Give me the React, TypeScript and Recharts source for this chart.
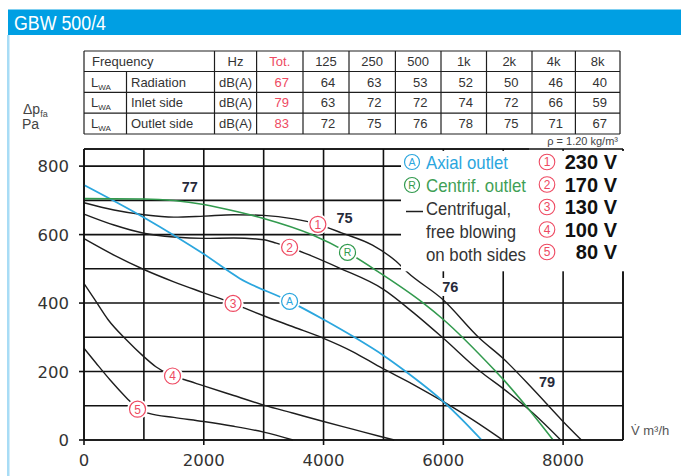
import React from 'react';
import { ComposedChart, Line, Scatter, XAxis, YAxis, CartesianGrid, ReferenceLine } from 'recharts';

// ---------- data ----------
const title = 'GBW 500/4';
const freqHeaders = ['Hz', 'Tot.', '125', '250', '500', '1k', '2k', '4k', '8k'];
const rowLabels = ['Radiation', 'Inlet side', 'Outlet side'];
const radiation = [67, 64, 63, 53, 52, 50, 46, 40];
const inletSide = [79, 63, 72, 72, 74, 72, 66, 59];
const outletSide = [83, 72, 75, 76, 78, 75, 71, 67];
const tableRows = [radiation, inletSide, outletSide];

const xTicks = [0, 1000, 2000, 3000, 4000, 5000, 6000, 7000, 8000, 9000];
const xLabelTicks = [0, 2000, 4000, 6000, 8000];
const yTicks = [0, 100, 200, 300, 400, 500, 600, 700, 800];
const yLabelTicks = [0, 200, 400, 600, 800];

const axialOutlet = [
  { v: 0, p: 745 }, { v: 1000, p: 650 }, { v: 2000, p: 543 }, { v: 2600, p: 472 },
  { v: 3433, p: 405 }, { v: 4000, p: 352 }, { v: 4517, p: 300 }, { v: 5000, p: 247 },
  { v: 5350, p: 203 }, { v: 6000, p: 112 }, { v: 6300, p: 62 }, { v: 6640, p: 0 },
];
const centrifOutlet = [
  { v: 0, p: 705 }, { v: 1000, p: 704 }, { v: 2000, p: 688 }, { v: 2600, p: 665 },
  { v: 3000, p: 647 }, { v: 3800, p: 600 }, { v: 4400, p: 548 }, { v: 4933, p: 489 },
  { v: 5650, p: 402 }, { v: 6000, p: 352 }, { v: 6850, p: 205 }, { v: 7000, p: 177 },
  { v: 7378, p: 100 }, { v: 7833, p: 0 },
];
const curve230 = [
  { v: 0, p: 693 }, { v: 500, p: 672 }, { v: 1000, p: 658 }, { v: 1500, p: 651 },
  { v: 2000, p: 654 }, { v: 2500, p: 658 }, { v: 3000, p: 656 }, { v: 3500, p: 646 },
  { v: 3905, p: 630 }, { v: 4300, p: 605 }, { v: 4817, p: 569 }, { v: 5211, p: 522 },
  { v: 5400, p: 490 }, { v: 6000, p: 409 }, { v: 6600, p: 298 }, { v: 7000, p: 238 },
  { v: 7500, p: 148 }, { v: 7978, p: 58 }, { v: 8305, p: 0 },
];
const curve170 = [
  { v: 0, p: 660 }, { v: 500, p: 628 }, { v: 1000, p: 604 }, { v: 1500, p: 593 },
  { v: 2000, p: 589 }, { v: 2500, p: 590 }, { v: 3000, p: 585 }, { v: 3211, p: 575 },
  { v: 3433, p: 563 }, { v: 3739, p: 542 }, { v: 4267, p: 502 }, { v: 5000, p: 440 },
  { v: 5500, p: 372 }, { v: 6000, p: 297 }, { v: 6617, p: 200 }, { v: 7000, p: 150 },
  { v: 7500, p: 78 }, { v: 7960, p: 0 },
];
const curve130 = [
  { v: 0, p: 588 }, { v: 500, p: 540 }, { v: 1000, p: 498 }, { v: 1500, p: 462 },
  { v: 2000, p: 430 }, { v: 2489, p: 399 }, { v: 2683, p: 385 }, { v: 3000, p: 363 },
  { v: 3500, p: 330 }, { v: 4000, p: 297 }, { v: 4500, p: 257 }, { v: 4933, p: 214 },
  { v: 5500, p: 162 }, { v: 6000, p: 112 }, { v: 6500, p: 58 }, { v: 6990, p: 0 },
];
const curve100 = [
  { v: 0, p: 457 }, { v: 183, p: 409 }, { v: 400, p: 352 }, { v: 711, p: 292 },
  { v: 989, p: 245 }, { v: 1200, p: 214 }, { v: 1478, p: 187 }, { v: 1683, p: 176 },
  { v: 2000, p: 158 }, { v: 2500, p: 130 }, { v: 3000, p: 102 }, { v: 3500, p: 78 },
  { v: 4000, p: 54 }, { v: 4500, p: 31 }, { v: 4933, p: 11 }, { v: 5180, p: 0 },
];
const curve80 = [
  { v: 0, p: 268 }, { v: 200, p: 225 }, { v: 433, p: 176 }, { v: 711, p: 123 },
  { v: 894, p: 92 }, { v: 1100, p: 77 }, { v: 1500, p: 66 }, { v: 2000, p: 54 },
  { v: 2500, p: 40 }, { v: 3000, p: 23 }, { v: 3489, p: 0 },
];

const speedMarkers = [
  { v: 3905, p: 630, n: '1' }, { v: 3433, p: 563, n: '2' }, { v: 2489, p: 399, n: '3' },
  { v: 1478, p: 187, n: '4' }, { v: 894, p: 90, n: '5' },
];
const axialMarker = [{ v: 3433, p: 405, n: 'A' }];
const centrifMarker = [{ v: 4400, p: 548, n: 'R' }];
const soundLevels = [
  { v: 1767, p: 739, n: '77' }, { v: 4350, p: 648, n: '75' },
  { v: 6117, p: 447, n: '76' }, { v: 7733, p: 169, n: '79' },
];

const voltages = ['230 V', '170 V', '130 V', '100 V', '80 V'];
const voltageNumbers = ['1', '2', '3', '4', '5'];
const outletLegend = ['Axial outlet', 'Centrif. outlet'];
const freeBlowingLegend = ['Centrifugal,', 'free blowing', 'on both sides'];
const densityNote = 'ρ = 1.20 kg/m³';
const xAxisLabel = 'V̇ m³/h';

// ---------- styles ----------
const BLUE = '#2ba6de';
const GREEN = '#329a4e';
const RED = '#ee4a62';
const BLACK = '#1e1e1e';
const GRID = '#111';
const TEXT = '#333';
const FONT = '"Liberation Sans", Arial, sans-serif';
const TICK_FONT = '"DejaVu Sans", sans-serif';

const XTick = (props: any) => {
  const { x, y, payload } = props;
  const show = xLabelTicks.includes(payload.value);
  if (!show) return <g />;
  return (
    <g>
      <line x1={x} x2={x} y1={y} y2={y + 5} stroke={GRID} strokeWidth={1.6} />
      <text x={x} y={y + 26} textAnchor="middle" fontSize={16.5} fontFamily={TICK_FONT} fill={TEXT}>
        {payload.value}
      </text>
    </g>
  );
};

const YTick = (props: any) => {
  const { x, y, payload } = props;
  const show = yLabelTicks.includes(payload.value);
  if (!show) return <g />;
  return (
    <g>
      <line x1={x - 5} x2={x} y1={y} y2={y} stroke={GRID} strokeWidth={1.6} />
      <text x={x - 15} y={y + 6} textAnchor="end" fontSize={16.5} fontFamily={TICK_FONT} fill={TEXT}>
        {payload.value}
      </text>
    </g>
  );
};

const circleShape = (color: string, fs: number) => (props: any) => {
  const { cx, cy, payload } = props;
  return (
    <g>
      <circle cx={cx} cy={cy} r={10.5} fill="#fff" />
      <circle cx={cx} cy={cy} r={8} fill="#fff" stroke={color} strokeWidth={1.2} />
      <text x={cx} y={cy + fs * 0.36} textAnchor="middle" fontSize={fs} fontFamily={FONT} fill={color}>
        {payload.n}
      </text>
    </g>
  );
};

const levelShape = (props: any) => {
  const { cx, cy, payload } = props;
  return (
    <g>
      <rect x={cx - 10} y={cy - 9} width={20} height={18} fill="#fff" />
      <text x={cx} y={cy + 5} textAnchor="middle" fontSize={14.5} fontWeight="bold" fontFamily={FONT} fill="#262a3a">
        {payload.n}
      </text>
    </g>
  );
};

const colX = [84, 126.5, 214.5, 256.6, 303, 349, 395.4, 441, 486.5, 532, 575.4, 620];
const rowY = [51, 71.5, 92.3, 113.2, 134];

const Overlay = () => {
  const cellCenter = (i: number) => (colX[i] + colX[i + 1]) / 2;
  const rowBase = (r: number) => (rowY[r] + rowY[r + 1]) / 2 + 4.6;
  return (
    <svg width={681} height={476} style={{ position: 'absolute', left: 0, top: 0, pointerEvents: 'none' }}>
      {/* header */}
      <rect x={8} y={9.5} width={673} height={25.5} fill="#009fe3" />
      <text x={14} y={29.5} fontSize={20} fontFamily={FONT} fill="#fff" textLength={92} lengthAdjust="spacingAndGlyphs">{title}</text>
      <rect x={7} y={35} width={2.5} height={441} fill="#a8dcf5" />

      {/* table */}
      {rowY.map((y, i) => (
        <line key={'h' + i} x1={colX[0]} x2={colX[11]} y1={y} y2={y} stroke={BLACK} strokeWidth={1.2} />
      ))}
      {colX.map((x, i) => (
        <line key={'v' + i} x1={x} x2={x} y1={i === 1 ? rowY[1] : rowY[0]} y2={rowY[4]} stroke={BLACK} strokeWidth={1.2} />
      ))}
      <text x={92} y={rowBase(0)} fontSize={13} fontFamily={FONT} fill={TEXT}>Frequency</text>
      {freqHeaders.map((h, i) => (
        <text key={'fh' + i} x={cellCenter(i + 2)} y={rowBase(0)} textAnchor="middle" fontSize={13} fontFamily={FONT} fill={i === 1 ? RED : TEXT}>{h}</text>
      ))}
      {tableRows.map((row, r) => (
        <g key={'r' + r}>
          <text x={91} y={rowBase(r + 1)} fontSize={13} fontFamily={FONT} fill={TEXT}>
            L<tspan fontSize={8} dy={3}>WA</tspan>
          </text>
          <text x={131} y={rowBase(r + 1)} fontSize={13} fontFamily={FONT} fill={TEXT}>{rowLabels[r]}</text>
          <text x={cellCenter(2)} y={rowBase(r + 1)} textAnchor="middle" fontSize={13} fontFamily={FONT} fill={TEXT}>dB(A)</text>
          {row.map((val, i) => (
            <text key={'c' + i} x={cellCenter(i + 3) + 2} y={rowBase(r + 1)} textAnchor="middle" fontSize={13} fontFamily={FONT} fill={i === 0 ? RED : TEXT}>{val}</text>
          ))}
        </g>
      ))}

      {/* y label */}
      <text x={23} y={114} fontSize={14} fontFamily={FONT} fill="#444">
        Δp<tspan fontSize={9} dy={3}>fa</tspan>
      </text>
      <text x={22} y={129} fontSize={14} fontFamily={FONT} fill="#444">Pa</text>

      {/* density note */}
      <text x={618} y={145} textAnchor="end" fontSize={11} fontFamily={FONT} fill="#444">{densityNote}</text>

      {/* legend box */}
      <rect x={401} y={150.9} width={280} height={120.4} fill="#fff" />
      <circle cx={412} cy={162} r={7.5} fill="#fff" stroke={BLUE} strokeWidth={1.2} />
      <text x={412} y={165.8} textAnchor="middle" fontSize={10.5} fontFamily={FONT} fill={BLUE}>A</text>
      <text x={426} y={168.5} fontSize={18.5} fontFamily={FONT} fill={BLUE} textLength={82} lengthAdjust="spacingAndGlyphs">{outletLegend[0]}</text>
      <circle cx={412} cy={185} r={7.5} fill="#fff" stroke={GREEN} strokeWidth={1.2} />
      <text x={412} y={188.8} textAnchor="middle" fontSize={10.5} fontFamily={FONT} fill={GREEN}>R</text>
      <text x={426} y={191.5} fontSize={18.5} fontFamily={FONT} fill="#3f9f56" textLength={100} lengthAdjust="spacingAndGlyphs">{outletLegend[1]}</text>
      <line x1={406} x2={423} y1={211.5} y2={211.5} stroke={BLACK} strokeWidth={1.5} />
      {freeBlowingLegend.map((t, i) => (
        <text key={'fb' + i} x={426} y={214.5 + i * 23.2} fontSize={18.5} fontFamily={FONT} fill="#333"
          textLength={[85, 90, 100][i]} lengthAdjust="spacingAndGlyphs">{t}</text>
      ))}
      {voltages.map((t, i) => {
        const cy = 162 + i * 22.5;
        return (
          <g key={'vl' + i}>
            <circle cx={547} cy={cy} r={7.8} fill="#fff" stroke={RED} strokeWidth={1.1} />
            <text x={547} y={cy + 4.3} textAnchor="middle" fontSize={12} fontFamily={FONT} fill={RED}>{voltageNumbers[i]}</text>
            <text x={617} y={cy + 7.2} textAnchor="end" fontSize={20} fontWeight="bold" fontFamily={FONT} fill="#111">{t}</text>
          </g>
        );
      })}

      {/* x label */}
      <text x={631} y={435} fontSize={13} fontFamily={FONT} fill="#555">{xAxisLabel}</text>
    </svg>
  );
};

export default function App() {
  return (
    <div style={{ position: 'absolute', left: 0, top: 0, width: 681, height: 476, background: '#fff', overflow: 'hidden' }}>
      <div style={{ position: 'absolute', left: 0, top: 0 }}>
        <ComposedChart width={681} height={476} margin={{ top: 149, right: 58, bottom: 6, left: 24 }}>
          <CartesianGrid stroke={GRID} strokeWidth={1.6} />
          <XAxis
            type="number"
            dataKey="v"
            domain={[0, 9000]}
            ticks={xTicks}
            interval={0}
            tickSize={0}
            tickMargin={0}
            tickLine={false}
            tick={XTick}
            height={30}
            axisLine={{ stroke: GRID, strokeWidth: 1.6 }}
          />
          <YAxis
            type="number"
            domain={[0, 850]}
            ticks={yTicks}
            interval={0}
            tickSize={0}
            tickMargin={0}
            tickLine={false}
            tick={YTick}
            width={60}
            axisLine={{ stroke: GRID, strokeWidth: 1.6 }}
          />
          <ReferenceLine segment={[{ x: 0, y: 850 }, { x: 7430, y: 850 }]} stroke={GRID} strokeWidth={1.6} />
          <ReferenceLine x={9000} stroke={GRID} strokeWidth={1.6} />
          <Line data={curve230} dataKey="p" type="monotone" stroke={BLACK} strokeWidth={1.4} dot={false} isAnimationActive={false} />
          <Line data={curve170} dataKey="p" type="monotone" stroke={BLACK} strokeWidth={1.4} dot={false} isAnimationActive={false} />
          <Line data={curve130} dataKey="p" type="monotone" stroke={BLACK} strokeWidth={1.4} dot={false} isAnimationActive={false} />
          <Line data={curve100} dataKey="p" type="monotone" stroke={BLACK} strokeWidth={1.4} dot={false} isAnimationActive={false} />
          <Line data={curve80} dataKey="p" type="monotone" stroke={BLACK} strokeWidth={1.4} dot={false} isAnimationActive={false} />
          <Line data={axialOutlet} dataKey="p" type="monotone" stroke={BLUE} strokeWidth={1.8} dot={false} isAnimationActive={false} />
          <Line data={centrifOutlet} dataKey="p" type="monotone" stroke={GREEN} strokeWidth={1.6} dot={false} isAnimationActive={false} />
          <Scatter data={speedMarkers} dataKey="p" shape={circleShape(RED, 12)} isAnimationActive={false} />
          <Scatter data={axialMarker} dataKey="p" shape={circleShape(BLUE, 10.5)} isAnimationActive={false} />
          <Scatter data={centrifMarker} dataKey="p" shape={circleShape(GREEN, 10.5)} isAnimationActive={false} />
          <Scatter data={soundLevels} dataKey="p" shape={levelShape} isAnimationActive={false} />
        </ComposedChart>
      </div>
      <Overlay />
    </div>
  );
}
